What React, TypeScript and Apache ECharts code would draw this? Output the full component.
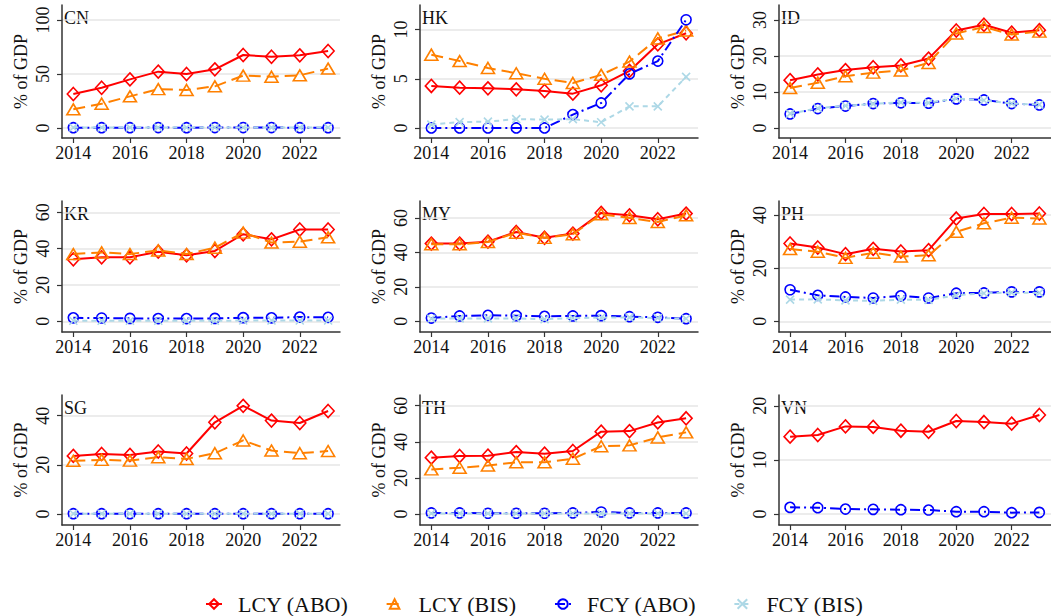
import React, { useEffect, useRef } from "react";
import * as echarts from "echarts";

const YEARS = [2014, 2015, 2016, 2017, 2018, 2019, 2020, 2021, 2022, 2023];
const X_TICKS = [2014, 2016, 2018, 2020, 2022];
const SERIES_NAMES = ["LCY (ABO)", "LCY (BIS)", "FCY (ABO)", "FCY (BIS)"];

const CN_LCY_ABO = [31.5, 37.3, 45.0, 52.2, 50.0, 54.3, 67.6, 66.0, 67.3, 71.3];
const CN_LCY_BIS = [17.3, 22.5, 29.3, 36.0, 35.2, 38.6, 48.5, 47.5, 48.8, 55.0];
const CN_FCY_ABO = [0.3, 0.3, 0.3, 0.4, 0.3, 0.4, 0.4, 0.4, 0.3, 0.3];
const CN_FCY_BIS = [0.5, 0.5, 0.5, 0.5, 0.5, 0.5, 0.5, 0.5, 0.5, 0.5];
const CN_TICKS = [0, 50, 100];

const HK_LCY_ABO = [4.27, 4.1, 4.03, 3.93, 3.76, 3.49, 4.34, 5.8, 8.5, 9.63];
const HK_LCY_BIS = [7.45, 6.8, 6.1, 5.56, 5.0, 4.57, 5.4, 6.75, 9.1, 9.9];
const HK_FCY_ABO = [0, 0, 0, 0, 0, 1.36, 2.54, 5.5, 6.8, 11.0];
const HK_FCY_BIS = [0.34, 0.6, 0.64, 0.9, 0.85, 0.9, 0.58, 2.2, 2.2, 5.2];
const HK_TICKS = [0, 5, 10];

const ID_LCY_ABO = [13.3, 14.9, 16.1, 16.9, 17.4, 19.3, 27.1, 28.7, 26.5, 27.2];
const ID_LCY_BIS = [11.1, 12.6, 14.4, 15.4, 16.0, 18.1, 26.3, 28.1, 26.0, 26.8];
const ID_FCY_ABO = [3.9, 5.4, 6.1, 6.8, 7.0, 6.9, 8.1, 7.8, 6.8, 6.4];
const ID_FCY_BIS = [4.0, 5.5, 6.2, 6.7, 7.1, 7.0, 8.2, 7.7, 6.8, 6.5];
const ID_TICKS = [0, 10, 20, 30];

const KR_LCY_ABO = [34.1, 35.2, 35.2, 38.3, 36.3, 38.7, 47.9, 45.1, 50.5, 50.5];
const KR_LCY_BIS = [37.0, 37.9, 37.0, 39.0, 37.0, 40.5, 48.8, 43.3, 43.8, 46.2];
const KR_FCY_ABO = [1.9, 1.8, 1.6, 1.5, 1.5, 1.6, 2.0, 1.9, 2.3, 2.2];
const KR_FCY_BIS = [0.3, 0.3, 0.3, 0.3, 0.3, 0.3, 0.4, 0.4, 0.4, 0.4];
const KR_TICKS = [0, 20, 40, 60];

const MY_LCY_ABO = [45.1, 45.1, 46.2, 51.8, 48.5, 50.9, 62.9, 61.5, 59.2, 62.5];
const MY_LCY_BIS = [44.7, 44.7, 46.0, 51.4, 48.4, 50.5, 62.1, 60.0, 57.6, 61.5];
const MY_FCY_ABO = [1.9, 3.1, 3.5, 3.3, 2.9, 3.1, 3.3, 2.7, 2.3, 1.5];
const MY_FCY_BIS = [1.5, 1.7, 1.7, 1.7, 1.2, 1.9, 2.1, 2.3, 1.9, 1.5];
const MY_TICKS = [0, 20, 40, 60];

const PH_LCY_ABO = [29.3, 27.8, 25.3, 27.3, 26.3, 26.8, 38.7, 40.4, 40.4, 40.6];
const PH_LCY_BIS = [27.2, 26.2, 23.9, 25.8, 24.4, 24.9, 33.7, 36.9, 39.0, 38.7];
const PH_FCY_ABO = [11.9, 9.8, 9.2, 8.8, 9.6, 8.8, 10.6, 10.7, 11.1, 11.1];
const PH_FCY_BIS = [8.2, 8.3, 7.9, 7.7, 8.2, 8.1, 9.8, 10.6, 10.8, 10.7];
const PH_TICKS = [0, 20, 40];

const SG_LCY_ABO = [23.6, 24.4, 24.0, 25.4, 24.6, 37.3, 44.0, 38.0, 37.0, 41.9];
const SG_LCY_BIS = [21.6, 22.0, 21.7, 23.1, 22.4, 24.7, 29.9, 25.8, 24.7, 25.6];
const SG_FCY_ABO = [0.1, 0.1, 0.1, 0.1, 0.1, 0.1, 0.1, 0.1, 0.1, 0.1];
const SG_FCY_BIS = [0.1, 0.1, 0.1, 0.1, 0.1, 0.1, 0.1, 0.1, 0.1, 0.1];
const SG_TICKS = [0, 20, 40];

const TH_LCY_ABO = [31.2, 32.1, 32.3, 34.3, 33.4, 34.9, 45.6, 45.9, 50.7, 53.0];
const TH_LCY_BIS = [24.7, 25.6, 26.9, 28.6, 28.6, 30.6, 37.5, 38.0, 42.4, 45.2];
const TH_FCY_ABO = [0.6, 0.6, 0.4, 0.4, 0.4, 0.6, 1.1, 0.6, 0.6, 0.6];
const TH_FCY_BIS = [0.3, 0.3, 0.3, 0.3, 0.3, 0.3, 0.3, 0.3, 0.3, 0.3];
const TH_TICKS = [0, 20, 40, 60];

const VN_LCY_ABO = [14.3, 14.6, 16.2, 16.1, 15.4, 15.2, 17.2, 17.0, 16.7, 18.3];
const VN_FCY_ABO = [1.23, 1.17, 0.92, 0.86, 0.8, 0.74, 0.43, 0.43, 0.25, 0.3];
const VN_TICKS = [0, 10, 20];

type Panel = {
  code: string;
  lcyAbo: number[] | null;
  lcyBis: number[] | null;
  fcyAbo: number[] | null;
  fcyBis: number[] | null;
  ticks: number[];
  min: number;
  max: number;
};

const PANELS: Panel[] = [
  { code: "CN", lcyAbo: CN_LCY_ABO, lcyBis: CN_LCY_BIS, fcyAbo: CN_FCY_ABO, fcyBis: CN_FCY_BIS, ticks: CN_TICKS, min: -9.26, max: 113.9 },
  { code: "HK", lcyAbo: HK_LCY_ABO, lcyBis: HK_LCY_BIS, fcyAbo: HK_FCY_ABO, fcyBis: HK_FCY_BIS, ticks: HK_TICKS, min: -1.02, max: 12.5 },
  { code: "ID", lcyAbo: ID_LCY_ABO, lcyBis: ID_LCY_BIS, fcyAbo: ID_FCY_ABO, fcyBis: ID_FCY_BIS, ticks: ID_TICKS, min: -2.78, max: 34.2 },
  { code: "KR", lcyAbo: KR_LCY_ABO, lcyBis: KR_LCY_BIS, fcyAbo: KR_FCY_ABO, fcyBis: KR_FCY_BIS, ticks: KR_TICKS, min: -5.9, max: 66.2 },
  { code: "MY", lcyAbo: MY_LCY_ABO, lcyBis: MY_LCY_BIS, fcyAbo: MY_FCY_ABO, fcyBis: MY_FCY_BIS, ticks: MY_TICKS, min: -6.2, max: 69.8 },
  { code: "PH", lcyAbo: PH_LCY_ABO, lcyBis: PH_LCY_BIS, fcyAbo: PH_FCY_ABO, fcyBis: PH_FCY_BIS, ticks: PH_TICKS, min: -4.0, max: 45.3 },
  { code: "SG", lcyAbo: SG_LCY_ABO, lcyBis: SG_LCY_BIS, fcyAbo: SG_FCY_ABO, fcyBis: SG_FCY_BIS, ticks: SG_TICKS, min: -4.5, max: 48.4 },
  { code: "TH", lcyAbo: TH_LCY_ABO, lcyBis: TH_LCY_BIS, fcyAbo: TH_FCY_ABO, fcyBis: TH_FCY_BIS, ticks: TH_TICKS, min: -6.1, max: 65.9 },
  { code: "VN", lcyAbo: VN_LCY_ABO, lcyBis: null, fcyAbo: VN_FCY_ABO, fcyBis: null, ticks: VN_TICKS, min: -2.03, max: 22.0 },
];

const COL_LEFT = [62, 420, 779];
const ROW_TOP = [5, 201, 395];
const ROW_HEIGHT = [133, 131, 130];
const GRID_WIDTH = 278;

const FONT = "'Liberation Serif', 'Times New Roman', serif";
const RED = "#ff0000";
const ORANGE = "#ff8000";
const BLUE = "#0000ff";
const LIGHTBLUE = "#add8e6";
const X_SYMBOL = "path://M0,0L10,10M10,0L0,10";

const STYLES = [
  { color: RED, dash: "solid" as any, symbol: "diamond", size: [12, 13] },
  { color: ORANGE, dash: [12, 6], symbol: "triangle", size: [13, 11] },
  { color: BLUE, dash: [10, 4, 2, 4], symbol: "circle", size: 10 },
  { color: LIGHTBLUE, dash: [5, 4], symbol: X_SYMBOL, size: 8 },
];

function buildOption() {
  const grid: any[] = [];
  const xAxis: any[] = [];
  const yAxis: any[] = [];
  const series: any[] = [];
  const graphic: any[] = [];

  PANELS.forEach((p, i) => {
    const col = i % 3;
    const row = Math.floor(i / 3);
    const left = COL_LEFT[col];
    const top = ROW_TOP[row];
    grid.push({ left, top, width: GRID_WIDTH, height: ROW_HEIGHT[row], containLabel: false });
    xAxis.push({
      type: "value",
      gridIndex: i,
      min: 2013.6,
      max: 2023.42,
      axisLine: { show: true, onZero: false, lineStyle: { color: "#333", width: 1.5 } },
      axisTick: { show: true, length: 5, customValues: X_TICKS, lineStyle: { color: "#333", width: 1.2 } },
      axisLabel: {
        customValues: X_TICKS,
        margin: 6,
        color: "#111",
        fontFamily: FONT,
        fontSize: 18,
        formatter: (v: number) => String(v),
      },
      splitLine: { show: false },
    });
    yAxis.push({
      type: "value",
      gridIndex: i,
      min: p.min,
      max: p.max,
      name: "% of GDP",
      nameLocation: "middle",
      nameGap: 32,
      nameTextStyle: { fontFamily: FONT, fontSize: 18, color: "#111" },
      axisLine: { show: true, onZero: false, lineStyle: { color: "#333", width: 1.5 } },
      axisTick: { show: true, length: 5, customValues: p.ticks, lineStyle: { color: "#333", width: 1.2 } },
      axisLabel: {
        customValues: p.ticks,
        rotate: 90,
        margin: 10,
        color: "#111",
        fontFamily: FONT,
        fontSize: 18,
        formatter: (v: number) => String(v),
      },
      splitLine: { show: true, lineStyle: { color: "#e6e6e6", width: 1.5 } },
    });
    graphic.push({
      type: "text",
      left: left + 2,
      top: top + 4,
      style: { text: p.code, font: `18px ${FONT}`, fill: "#111" },
    });
    const vals = [p.lcyAbo, p.lcyBis, p.fcyAbo, p.fcyBis];
    vals.forEach((arr, k) => {
      if (!arr) return;
      const st = STYLES[k];
      series.push({
        type: "line",
        name: SERIES_NAMES[k],
        xAxisIndex: i,
        yAxisIndex: i,
        data: YEARS.map((y, j) => [y, arr[j]]),
        symbol: st.symbol,
        symbolSize: st.size,
        showAllSymbol: true,
        lineStyle: { color: st.color, width: 2, type: st.dash },
        itemStyle: { color: "rgba(255,255,255,0)", borderColor: st.color, borderWidth: 1.6 },
        emphasis: { disabled: true },
        z: 2 + k,
      });
    });
  });

  return {
    animation: false,
    backgroundColor: "#ffffff",
    textStyle: { fontFamily: FONT },
    grid,
    xAxis,
    yAxis,
    series,
    graphic,
    legend: {
      left: 200,
      top: 588,
      itemWidth: 16,
      itemHeight: 12,
      itemGap: 37,
      data: SERIES_NAMES,
      textStyle: { fontFamily: FONT, fontSize: 22, color: "#111", padding: [0, 0, 0, 11] },
    },
  };
}

export default function App() {
  const ref = useRef<HTMLDivElement>(null);
  useEffect(() => {
    document.body.style.margin = "0";
    const chart = echarts.init(ref.current!, undefined, { renderer: "svg" });
    chart.setOption(buildOption() as any);
    return () => chart.dispose();
  }, []);
  return <div ref={ref} style={{ width: 1051, height: 616, position: "absolute", left: 0, top: 0 }} />;
}
